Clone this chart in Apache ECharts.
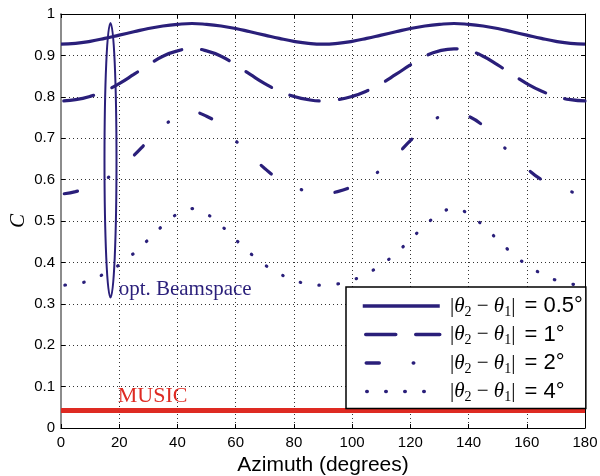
<!DOCTYPE html>
<html>
<head>
<meta charset="utf-8">
<script src="https://cdn.jsdelivr.net/npm/echarts@6/dist/echarts.min.js"></script>
<style>
  html, body { margin: 0; padding: 0; background: #fff; }
  #chart { width: 600px; height: 476px; }
</style>
</head>
<body>
<div id="chart"></div>
<script>
// azimuth samples, degrees
const azimuth = [0, 5, 10, 15, 20, 25, 30, 35, 40, 45, 50, 55, 60, 65, 70, 75, 80, 85, 90,
  95, 100, 105, 110, 115, 120, 125, 130, 135, 140, 145, 150, 155, 160, 165, 170, 175, 180];

// C for the optimised beamspace, one list per source separation
const beam05 = [0.927, 0.929, 0.934, 0.941, 0.949, 0.957, 0.965, 0.971, 0.975, 0.977, 0.975, 0.971, 0.965, 0.957, 0.949, 0.941, 0.934, 0.929, 0.927,
  0.929, 0.934, 0.941, 0.949, 0.957, 0.965, 0.971, 0.975, 0.977, 0.975, 0.971, 0.965, 0.957, 0.949, 0.941, 0.934, 0.929, 0.927];
const beam1 = [0.790, 0.793, 0.801, 0.814, 0.832, 0.854, 0.877, 0.898, 0.911, 0.916, 0.911, 0.898, 0.877, 0.854, 0.832, 0.814, 0.801, 0.793, 0.790,
  0.793, 0.801, 0.814, 0.832, 0.854, 0.877, 0.898, 0.911, 0.916, 0.911, 0.898, 0.877, 0.854, 0.832, 0.814, 0.801, 0.793, 0.790];
const beam2 = [0.565, 0.571, 0.583, 0.600, 0.625, 0.658, 0.694, 0.728, 0.752, 0.763, 0.753, 0.730, 0.694, 0.659, 0.627, 0.600, 0.583, 0.571, 0.566,
  0.571, 0.583, 0.600, 0.625, 0.658, 0.694, 0.728, 0.752, 0.763, 0.753, 0.730, 0.694, 0.659, 0.627, 0.600, 0.583, 0.571, 0.565];
const beam4 = [0.345, 0.348, 0.357, 0.373, 0.394, 0.422, 0.455, 0.489, 0.517, 0.530, 0.517, 0.489, 0.455, 0.422, 0.394, 0.373, 0.357, 0.348, 0.345,
  0.348, 0.357, 0.373, 0.394, 0.422, 0.455, 0.489, 0.517, 0.530, 0.517, 0.489, 0.455, 0.422, 0.394, 0.373, 0.357, 0.348, 0.345];

// MUSIC stays flat near 0.04
const music = [0.042, 0.042, 0.042, 0.042, 0.042, 0.042, 0.042, 0.042, 0.042, 0.042, 0.042, 0.042, 0.042, 0.042, 0.042, 0.042, 0.042, 0.042, 0.042,
  0.042, 0.042, 0.042, 0.042, 0.042, 0.042, 0.042, 0.042, 0.042, 0.042, 0.042, 0.042, 0.042, 0.042, 0.042, 0.042, 0.042, 0.042];

const separations = ['0.5°', '1°', '2°', '4°'];

// annotation: ellipse around the beamspace curves, plus the two labels
const ellipseAz = 17, ellipseTop = 0.978, ellipseBottom = 0.315;
const noteText = ['opt. Beamspace', 'MUSIC'];
const notePos = [[19.8, 0.335], [19.5, 0.077]];

const navy = '#2a1f7a';
const red = '#de2a22';

const chart = echarts.init(document.getElementById('chart'));

function pairs(vals) {
  return azimuth.map((a, i) => [a, vals[i]]);
}

function curve(name, vals, dash, cap, offset) {
  return {
    name: name,
    type: 'line',
    data: pairs(vals),
    smooth: true,
    symbol: 'none',
    lineStyle: { color: navy, width: 3.2, type: dash, cap: cap || 'butt', dashOffset: offset || 0 },
    itemStyle: { color: navy },
    z: 3
  };
}

const sans = 'Liberation Sans';
const serif = 'Liberation Serif';

let option = {
  animation: false,
  backgroundColor: '#fff',
  grid: { left: 61, right: 15, top: 14, bottom: 48, outerBoundsMode: 'none', containLabel: false },
  legend: {
    data: separations,
    orient: 'vertical',
    left: 346,
    top: 287,
    padding: [8, 3, 4, 15],
    itemGap: 4.5,
    itemWidth: 77,
    itemHeight: 14,
    backgroundColor: '#fff',
    borderColor: '#000',
    borderWidth: 1.5,
    borderRadius: 0,
    lineStyle: { width: 3.5 },
    itemStyle: { opacity: 0, color: 'transparent', borderWidth: 0 },
    formatter: function (name) {
      return '{p| |}{m|θ}{s|2}{p| − }{m|θ}{s|1}{p||}{t| = ' + name + '}';
    },
    textStyle: {
      color: '#000',
      rich: {
        p: { fontFamily: serif, fontSize: 21, color: '#000' },
        m: { fontFamily: serif, fontStyle: 'italic', fontSize: 21, color: '#000' },
        s: { fontFamily: serif, fontSize: 14, color: '#000', padding: [12, 0, 0, 0] },
        t: { fontFamily: sans, fontSize: 22, color: '#000', padding: [0, 0, 0, 3] }
      }
    },
    z: 10
  },
  xAxis: [{
    type: 'value', min: 0, max: 180, interval: 20,
    name: 'Azimuth (degrees)', nameLocation: 'middle', nameGap: 27,
    nameTextStyle: { fontFamily: sans, fontSize: 21, color: '#000' },
    axisLine: { onZero: false, lineStyle: { color: '#000', width: 1 } },
    axisTick: { inside: true, length: 4, lineStyle: { color: '#000' } },
    axisLabel: { color: '#000', fontFamily: sans, fontSize: 15, margin: 7 },
    splitLine: { show: true, lineStyle: { color: '#333', width: 1, type: [1, 3] } }
  }, {
    type: 'value', position: 'top', min: 0, max: 180, interval: 20,
    axisLine: { onZero: false, lineStyle: { color: '#000', width: 1 } },
    axisTick: { inside: true, length: 4, lineStyle: { color: '#000' } },
    axisLabel: { show: false },
    splitLine: { show: false }
  }],
  yAxis: [{
    type: 'value', min: 0, max: 1, interval: 0.1,
    name: 'C', nameLocation: 'middle', nameGap: 32, nameMoveOverlap: false,
    nameTextStyle: { fontFamily: serif, fontStyle: 'italic', fontSize: 21, color: '#000' },
    axisLine: { onZero: false, lineStyle: { color: '#8c8c8c', width: 2 } },
    axisTick: { inside: true, length: 4, lineStyle: { color: '#000' } },
    axisLabel: {
      color: '#000', fontFamily: sans, fontSize: 15, margin: 6,
      formatter: v => String(+v.toFixed(1))
    },
    splitLine: { show: true, lineStyle: { color: '#333', width: 1, type: [1, 3] } }
  }, {
    type: 'value', position: 'right', min: 0, max: 1, interval: 0.1,
    axisLine: { onZero: false, lineStyle: { color: '#000', width: 1 } },
    axisTick: { inside: true, length: 4, lineStyle: { color: '#000' } },
    axisLabel: { show: false },
    splitLine: { show: false }
  }],
  series: [
    {
      name: 'MUSIC',
      type: 'line',
      data: pairs(music),
      symbol: 'none',
      lineStyle: { color: red, width: 5 },
      z: 2
    },
    curve('0.5°', beam05, 'solid'),
    curve('1°', beam1, [30, 20], 'round', 47),
    curve('2°', beam2, [13, 34, 0.5, 34], 'round', 78),
    curve('4°', beam4, [0.5, 18.5], 'round', 15),
    {
      name: 'ellipse',
      type: 'custom',
      data: [[ellipseAz, ellipseTop, ellipseBottom]],
      renderItem: function (params, api) {
        const top = api.coord([api.value(0), api.value(1)]);
        const bot = api.coord([api.value(0), api.value(2)]);
        const rx = 6, ry = (bot[1] - top[1]) / 2;
        const cx = top[0];
        const d = 'M' + cx + ',' + top[1] +
          ' A' + rx + ',' + ry + ' 0 1,1 ' + cx + ',' + bot[1] +
          ' A' + rx + ',' + ry + ' 0 1,1 ' + cx + ',' + top[1] + ' Z';
        return {
          type: 'path',
          shape: { pathData: d },
          style: { fill: 'none', stroke: navy, lineWidth: 2 }
        };
      },
      z: 4
    },
    {
      name: 'notes',
      type: 'custom',
      data: notePos,
      renderItem: function (params, api) {
        const p = api.coord([api.value(0), api.value(1)]);
        const i = params.dataIndex;
        return {
          type: 'text',
          x: p[0], y: p[1],
          style: {
            text: noteText[i],
            font: (i === 0 ? '21px' : '22px') + ' "Liberation Serif"',
            fill: i === 0 ? navy : red,
            align: 'left',
            verticalAlign: 'middle'
          }
        };
      },
      z: 5
    }
  ]
};

chart.setOption(option);
</script>
</body>
</html>
